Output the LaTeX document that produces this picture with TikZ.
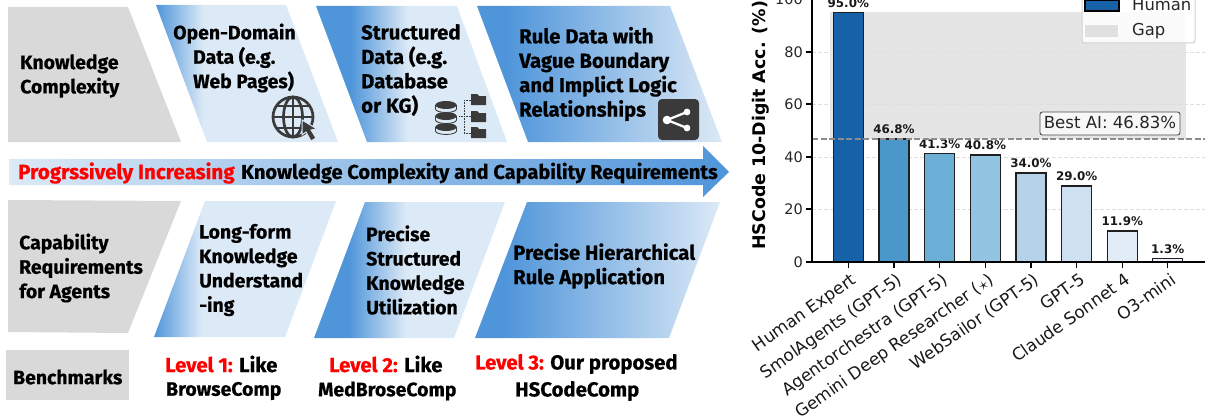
\documentclass[tikz,border=0pt]{standalone}
\usepackage{fontspec}
\setmainfont{Fira Sans}[BoldFeatures={FakeBold=0.5}]
\newfontfamily\djv{DejaVu Sans}
\usetikzlibrary{shadings}
\definecolor{bluehi}{HTML}{4F95DA}
\definecolor{bluelo}{HTML}{DCE9F6}
\definecolor{greybox}{HTML}{D9D9D9}
\definecolor{icondark}{HTML}{3A3A3A}
\definecolor{lvlred}{HTML}{FF0000}
\definecolor{humanblue}{HTML}{1761A8}
\pgfdeclarehorizontalshading{shadeA}{100bp}{color(0bp)=(bluehi); color(25bp)=(bluehi); color(38bp)=(bluelo); color(100bp)=(bluelo)}
\pgfdeclarehorizontalshading{shadeB}{100bp}{color(0bp)=(bluehi); color(34bp)=(bluehi); color(49bp)=(bluelo); color(100bp)=(bluelo)}
\pgfdeclarehorizontalshading{shadeC}{100bp}{color(0bp)=(bluehi); color(31bp)=(bluehi); color(75bp)=(bluelo); color(100bp)=(bluelo)}
\pgfdeclarehorizontalshading{shadeD}{100bp}{color(0bp)=(bluelo); color(25bp)=(bluelo); color(75bp)=(bluehi); color(100bp)=(bluehi)}
\tikzset{
  x=1pt,y=-1pt,
  lbl/.style={anchor=west,inner sep=0pt,align=left,font=\fontsize{20.3}{24.4}\selectfont\bfseries,text=black},
  lbls/.style={lbl,font=\fontsize{19.4}{24.4}\selectfont\bfseries},
  greyshape/.style={fill=greybox,draw=none},
  tick/.style={draw=black,line width=1.3pt},
  ticklab/.style={inner sep=0pt,font=\djv\fontsize{14.5}{17}\selectfont,text=black!85},
  xlab/.style={inner sep=0pt,anchor=north east,rotate=35,font=\djv\fontsize{16.9}{18}\selectfont,text=black!90},
  vallab/.style={inner sep=0pt,anchor=south,font=\djv\bfseries\fontsize{11.9}{13}\selectfont,text=black!90},
  barbox/.style={draw=black!88,line width=1.5pt},
  griddash/.style={draw=black!13,line width=0.9pt,dash pattern=on 4pt off 2pt},
  bestline/.style={draw=black!45,line width=1.2pt,dash pattern=on 6pt off 2.5pt},
}
\begin{document}
\begin{tikzpicture}
\useasboundingbox (0,0) rectangle (1205,420);
% ---- top row
\path[greyshape] (8,7)--(128,7)--(181,142)--(8,142)--cycle;
\shade[shading=shadeA] (156,5)--(286,5)--(338,142)--(207,142)--cycle;
\shade[shading=shadeB] (316,6)--(457,6)--(507,142)--(367,142)--cycle;
\shade[shading=shadeC] (477,6)--(670,6)--(722,142)--(528,142)--cycle;
% ---- arrow
\shade[shading=shadeD] (9,159)--(703,159)--(703,146)--(729,172)--(703,197)--(703,185)--(9,185)--cycle;
% ---- bottom row
\path[greyshape] (8,200)--(181,201)--(128,333)--(8,332)--cycle;
\shade[shading=shadeA] (205,201)--(336,201)--(285,337)--(154,337)--cycle;
\shade[shading=shadeB] (365,202)--(505,202)--(454,338)--(314,338)--cycle;
\shade[shading=shadeC] (527,202)--(720,202)--(669,338)--(475,338)--cycle;
\path[greyshape] (6,350) rectangle (129,400);
% ---- texts
\node[lbls] (kc) at (20,76) {Knowledge\\Complexity};
\node[lbls] (open) at (173,58) {Open-Domain\\\hspace*{20pt}Data (e.g.\\\hspace*{20pt}Web Pages)};
\node[lbl] (struct) at (361,70) {Structured\\Data (e.g.\\Database\\or KG)};
\node[lbl] (rule) at (519,74) {Rule Data with\\Vague Boundary\\and Implict Logic\\Relationships};
\node[lbl,font=\fontsize{20.6}{24}\selectfont\bfseries,text=lvlred] (arrowred) at (18,173) {Progrssively Increasing};
\node[lbl,font=\fontsize{20}{24}\selectfont\bfseries] (arrowblack) at (241,173) {Knowledge Complexity and Capability Requirements};
\node[lbls] (cap) at (19,268) {Capability\\Requirements\\for Agents};
\node[lbls] (long) at (199,270) {Long-form\\Knowledge\\Understand\\-ing};
\node[lbls] (prec) at (366,270) {Precise\\Structured\\Knowledge\\Utilization};
\node[lbl] (hier) at (513,266) {Precise Hierarchical\\Rule Application};
\node[lbls] (bench) at (13,377) {Benchmarks};
\node[lbl] (l1a) at (165,364) {\textcolor{lvlred}{Level 1:} Like};
\node[lbls] (l1b) at (166,391) {BrowseComp};
\node[lbl] (l2a) at (329,364) {\textcolor{lvlred}{Level 2:} Like};
\node[lbls] (l2b) at (318,391) {MedBroseComp};
\node[lbl] (l3a) at (475,364) {\textcolor{lvlred}{Level 3:} Our proposed};
\node[lbl] (l3b) at (515,391) {HSCodeComp};
% ---- globe icon
\begin{scope}[draw=icondark,line width=2.7pt]
\draw (293,117) circle (20);
\draw (293,117) ellipse (9.5 and 20);
\draw (293,97)--(293,137);
\draw (273,117)--(313,117);
\draw (277,106)--(309,106);
\draw (277,128)--(309,128);
\end{scope}
\path[fill=icondark,draw=bluelo,line width=1pt] (302,120)--(302,135)--(306,132)--(311,141)--(316,138)--(311,130)--(317,129)--cycle;
% ---- database icon
\foreach \yy in {127,116,105}{
  \path[fill=bluelo,draw=icondark,line width=0.8pt] (435.5,\yy)--(435.5,\yy+4) arc[start angle=180,end angle=360,x radius=10.5,y radius=-3.5] -- (456.5,\yy) -- cycle;
  \path[fill=icondark] (446,\yy) ellipse (10.5 and 4);
}
\draw[icondark,line width=0.6pt,densely dotted] (459,116)--(464,116) (464,100)--(464,133) (464,100)--(471,100) (464,116)--(471,116) (464,133)--(471,133);
\foreach \yy in {94,111,127}{
  \path[fill=icondark] (471,\yy+2)--(471,\yy)--(477,\yy)--(479,\yy+2)--(486,\yy+2)--(486,\yy+11)--(471,\yy+11)--cycle;
}
% ---- share icon
\path[fill=icondark,rounded corners=4pt] (658,99) rectangle (699,140);
\draw[white,line width=2.3pt] (667,120)--(687,112) (667,120)--(687,128);
\path[fill=white] (667,120) circle (4.3) (687,112) circle (3.4) (687,128) circle (3.4);
% ---- chart
\path[fill=black!10] (830,12) rectangle (1186,139);
\foreach \yy in {209,157,104,52}{\draw[griddash] (812,\yy)--(1205,\yy);}
\foreach \i/\cx/\val/\col in {1/848.3/95.0/1761A8,2/894/46.8/4A97C9,3/939.7/41.3/6BAED6,4/985.3/40.8/93C4E1,5/1031/34.0/B5D2E9,6/1076.7/29.0/CFE0F1,7/1122.3/11.9/E1ECF7,8/1167.7/1.3/EEF3FA}{
  \definecolor{barfill}{HTML}{\col}
  \pgfmathsetmacro{\ytop}{262-2.625*\val}
  \path[barbox,fill=barfill] (\cx-15,262) rectangle (\cx+15,\ytop);
  \draw[tick] (\cx,262)--(\cx,268);
  \node[vallab] (val\i) at (\cx,\ytop-5) {\val\%};
}
\draw[bestline] (812,139)--(1205,139);
\draw[black,line width=1.4pt] (812,-1)--(812,262)--(1205,262);
\foreach \t/\yy in {0/262,20/209,40/157,60/104,80/52,100/-0.5}{
  \draw[tick] (806,\yy)--(812,\yy);
  \node[ticklab,anchor=east] (ytick\t) at (803,\yy) {\t};
}
\node[inner sep=0pt,rotate=90,anchor=west,font=\djv\bfseries\fontsize{17.4}{19}\selectfont] (ylab) at (761,250) {HSCode 10-Digit Acc. (\%)};
\foreach \i/\cx/\name in {1/848.3/Human Expert,2/894/SmolAgents (GPT-5),3/939.7/Agentorchestra (GPT-5),4/985.3/Gemini Deep Researcher (\(\star\)),5/1031/WebSailor (GPT-5),6/1076.7/GPT-5,7/1122.3/Claude Sonnet 4,8/1167.7/O3-mini}{
  \node[xlab] (xt\i) at (\cx+2,272) {\name};
}
\path[draw=black!70,fill=black!3,line width=0.9pt,rounded corners=2.5pt] (1040,112) rectangle (1180,135);
\node[inner sep=0pt,font=\djv\fontsize{16.6}{18}\selectfont,text=black!85] (best) at (1110,122) {Best AI: 46.83\%};
% legend
\path[draw=black!18,fill=white,fill opacity=0.85,line width=1pt,rounded corners=2.5pt] (1082,-6) rectangle (1195,43);
\path[fill=humanblue,draw=black,line width=1.2pt] (1085,0.5) rectangle (1119,11);
\path[fill=black!12] (1085,25) rectangle (1118,37);
\node[inner sep=0pt,anchor=west,font=\djv\fontsize{16.4}{18}\selectfont,text=black!85] (lh) at (1132,5) {Human};
\node[inner sep=0pt,anchor=west,font=\djv\fontsize{16.4}{18}\selectfont,text=black!85] (lg) at (1132,31) {Gap};
\end{tikzpicture}
\end{document}
